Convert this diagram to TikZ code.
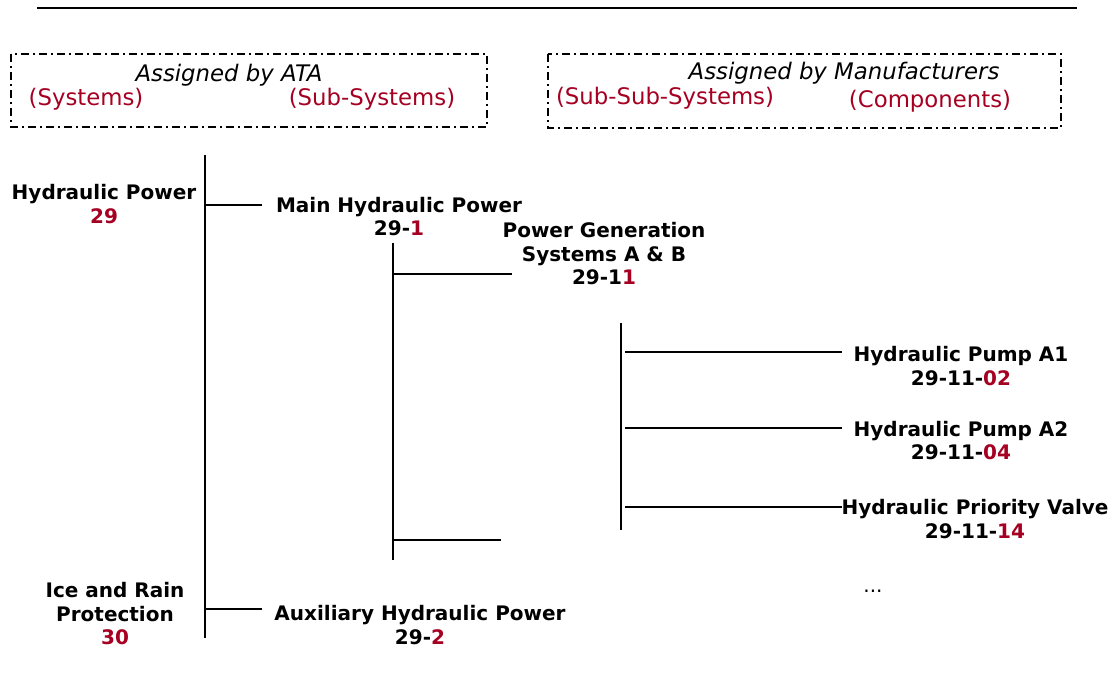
\documentclass[tikz,border=0pt]{standalone}
\usepackage{fontspec}
\setmainfont{DejaVu Sans}
\definecolor{codered}{RGB}{165,0,33}
\begin{document}
\begin{tikzpicture}[x=1pt,y=-1pt,
  hdr/.style={inner sep=0pt,font=\fontsize{22.8}{26}\selectfont},
  hdrred/.style={hdr,text=codered},
  lbl/.style={inner sep=0pt,align=center,font=\fontsize{20}{23.5}\selectfont\bfseries},
  tree/.style={line width=1.8pt},
  dashbox/.style={line width=1.6pt,dash pattern=on 8pt off 4pt on 2pt off 4pt}]
\useasboundingbox (0,0) rectangle (1115,697);
\newcommand{\rd}[1]{\textcolor{codered}{#1}}
% top rule
\coordinate (rl) at (37,8);
\coordinate (rr) at (1077,8);
\draw[line width=1.4pt] (rl) -- (rr);
% header boxes
\draw[dashbox] (11,54) rectangle (487,127);
\draw[dashbox] (548,54) rectangle (1061,128);
\node[hdr] (ata) at (229,75) {\itshape Assigned by ATA};
\node[hdrred] (sys) at (86,99) {(Systems)};
\node[hdrred] (subsys) at (372,99) {(Sub-Systems)};
\node[hdr] (man) at (844,73) {\itshape Assigned by Manufacturers};
\node[hdrred] (subsub) at (665,98) {(Sub-Sub-Systems)};
\node[hdrred] (comp) at (930,101) {(Components)};
% labels
\node[lbl] (hp) at (104,204) {Hydraulic Power\\\rd{29}};
\node[lbl] (mhp) at (399,216.5) {Main Hydraulic Power\\29-\rd{1}};
\node[lbl] (pgs) at (604,254) {Power Generation\\Systems A \& B\\29-1\rd{1}};
\node[lbl] (pa1) at (961,366) {Hydraulic Pump A1\\29-11-\rd{02}};
\node[lbl] (pa2) at (961,440.5) {Hydraulic Pump A2\\29-11-\rd{04}};
\node[lbl] (pv) at (975,519) {Hydraulic Priority Valve\\29-11-\rd{14}};
\node[lbl] (irp) at (115,614) {Ice and Rain\\Protection\\\rd{30}};
\node[lbl] (ahp) at (420,625) {Auxiliary Hydraulic Power\\29-\rd{2}};
\node[inner sep=0pt,font=\fontsize{20}{22}\selectfont] (dots) at (873,591) {...};
% tree lines
\coordinate (v1t) at (205,155); \coordinate (v1b) at (205,638);
\coordinate (h1a) at (205,205); \coordinate (h1b) at (262,205);
\coordinate (h2a) at (205,609); \coordinate (h2b) at (262,609);
\coordinate (v2t) at (393,243); \coordinate (v2b) at (393,560);
\coordinate (h3a) at (393,274); \coordinate (h3b) at (512,274);
\coordinate (h4a) at (393,540); \coordinate (h4b) at (501,540);
\coordinate (v3t) at (621,323); \coordinate (v3b) at (621,530);
\coordinate (h5a) at (625,352); \coordinate (h5b) at (842,352);
\coordinate (h6a) at (625,428); \coordinate (h6b) at (842,428);
\coordinate (h7a) at (625,507); \coordinate (h7b) at (842,507);
\draw[tree] (v1t) -- (v1b);
\draw[tree] (h1a) -- (h1b);
\draw[tree] (h2a) -- (h2b);
\draw[tree] (v2t) -- (v2b);
\draw[tree] (h3a) -- (h3b);
\draw[tree] (h4a) -- (h4b);
\draw[tree] (v3t) -- (v3b);
\draw[tree] (h5a) -- (h5b);
\draw[tree] (h6a) -- (h6b);
\draw[tree] (h7a) -- (h7b);
\end{tikzpicture}
\end{document}
